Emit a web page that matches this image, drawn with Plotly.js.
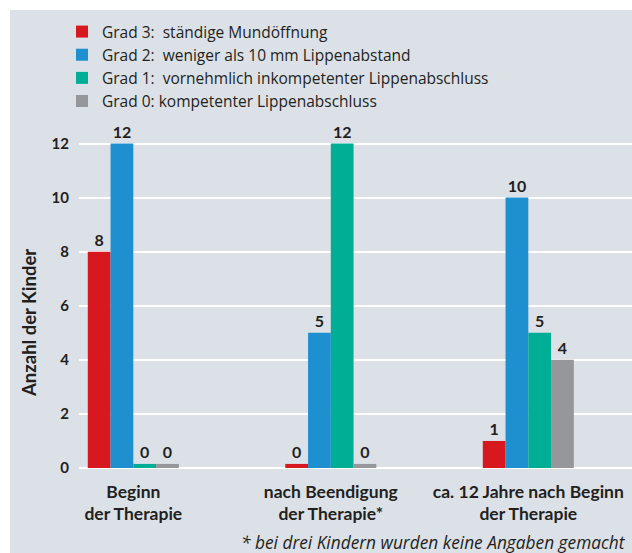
<!DOCTYPE html>
<html>
<head>
<meta charset="utf-8">
<script src="https://cdn.plot.ly/plotly-3.0.1.min.js"></script>
<style>
  html, body { margin: 0; padding: 0; background: #ffffff; }
  #chart { width: 632px; height: 553px; }
</style>
</head>
<body>
<div id="chart"></div>
<script>
// ---- data ----
const categories = ["Beginn<br>der Therapie", "nach Beendigung<br>der Therapie*", "ca. 12 Jahre nach Beginn<br>der Therapie"];
const seriesNames = [
  "Grad 3:\u00a0 ständige Mundöffnung",
  "Grad 2:\u00a0 weniger als 10 mm Lippenabstand",
  "Grad 1:\u00a0 vornehmlich inkompetenter Lippenabschluss",
  "Grad 0: kompetenter Lippenabschluss"
];
const grad3 = [8, 0, 1];
const grad2 = [12, 5, 10];
const grad1 = [0, 12, 5];
const grad0 = [0, 0, 4];
const yTicks = [0, 2, 4, 6, 8, 10, 12];
const yTitle = "Anzahl der Kinder";
const footnote = "* bei drei Kindern wurden keine Angaben gemacht";

// ---- styles ----
const colors = ["#d7191f", "#1e8fcf", "#00ae96", "#96979b"];
const panel = "#dbe1e7";
const ink = "#231f20";
const FONT = "Lato, 'Open Sans', sans-serif";
const FONT2 = "'Open Sans', 'Noto Sans', sans-serif";
const STUB = 0.15; // zero values are drawn as a thin stub like in the original

const seriesValues = [grad3, grad2, grad1, grad0];
const traces = seriesValues.map((vals, i) => ({
  type: "bar",
  name: seriesNames[i],
  x: categories,
  y: vals.map(v => (v === 0 ? STUB : v)),
  text: vals.map(v => String(v)),
  textposition: "outside",
  constraintext: "none",
  cliponaxis: false,
  textfont: { family: FONT, size: 16, color: ink, weight: "bold" },
  marker: { color: colors[i], line: { width: 0 } },
  hoverinfo: "skip"
}));

const L = 79, R = 0, T = 130, B = 85;
const W = 632, H = 553;
const ph = H - T - B;
const pw = W - L - R;

const layout = {
  width: W, height: H,
  margin: { l: L, r: R, t: T, b: B, pad: 0, autoexpand: false },
  paper_bgcolor: "#ffffff",
  plot_bgcolor: "rgba(0,0,0,0)",
  barmode: "group",
  bargap: 0.539,
  bargroupgap: 0,
  font: { family: FONT, color: ink },
  showlegend: true,
  legend: {
    xref: "container", yref: "container",
    x: 62 / W, xanchor: "left",
    y: 1 - 15 / H, yanchor: "top",
    orientation: "v",
    traceorder: "normal",
    bgcolor: "rgba(0,0,0,0)",
    borderwidth: 0,
    font: { family: FONT2, size: 15.5, color: ink }
  },
  xaxis: {
    type: "category",
    range: [-0.275, 2.525],
    automargin: false,
    showgrid: false,
    zeroline: false,
    showline: false,
    ticks: "",
    ticklabelstandoff: 11,
    tickfont: { family: FONT, size: 17.5, color: ink, weight: "bold" }
  },
  yaxis: {
    range: [0, 12.5],
    automargin: false,
    tickvals: yTicks,
    ticktext: yTicks.map(String),
    showgrid: true,
    gridcolor: "#ffffff",
    gridwidth: 2,
    zeroline: true,
    zerolinecolor: "#ffffff",
    zerolinewidth: 2,
    showline: false,
    ticks: "",
    ticklabelstandoff: 9,
    tickfont: { family: FONT, size: 15, color: ink, weight: "bold" }
  },
  shapes: [{
    type: "rect", xref: "paper", yref: "paper", layer: "below",
    x0: (10 - L) / pw, x1: 1.01,
    y0: -B / ph - 0.01, y1: (H - B - 10) / ph,
    fillcolor: panel, line: { width: 0 }
  }],
  annotations: [
    {
      text: yTitle, xref: "paper", yref: "paper",
      x: (29 - L) / pw, y: (H - B - 323) / ph,
      xanchor: "center", yanchor: "middle",
      textangle: -90, showarrow: false,
      font: { family: FONT, size: 18.5, color: ink, weight: "bold" }
    },
    {
      text: footnote, xref: "paper", yref: "paper",
      x: (628 - L) / pw, y: (H - B - 542) / ph,
      xanchor: "right", yanchor: "middle",
      showarrow: false,
      font: { family: FONT2, size: 17.3, color: ink, style: "italic" }
    }
  ]
};

Plotly.newPlot("chart", traces, layout, { displayModeBar: false, staticPlot: true });
</script>
</body>
</html>
